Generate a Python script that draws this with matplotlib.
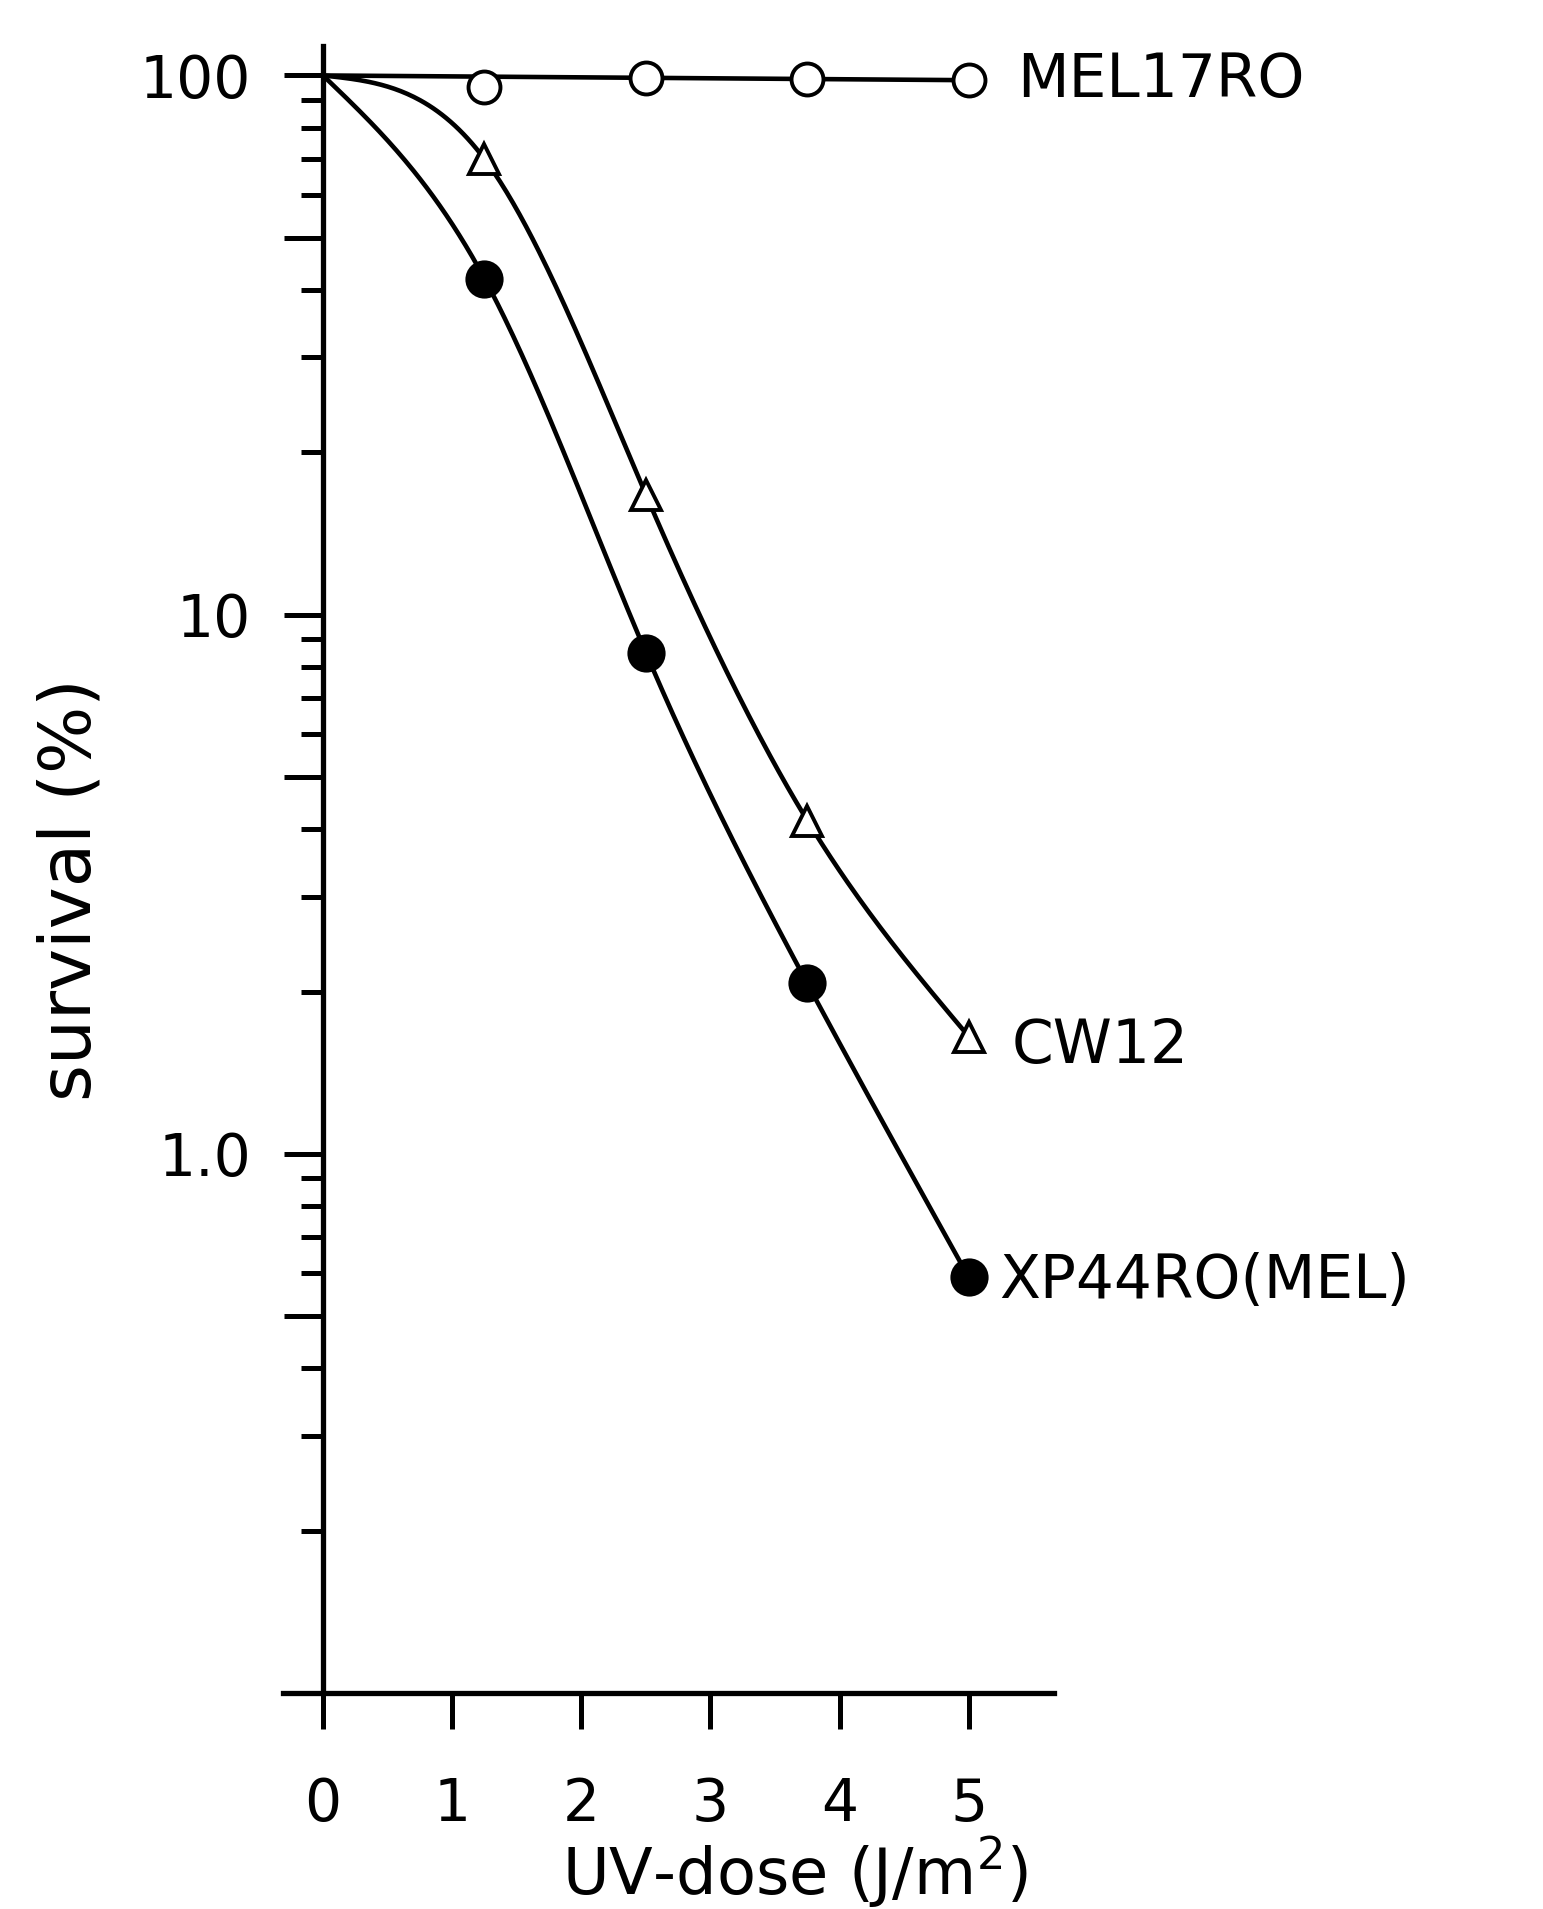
import numpy as np
import matplotlib
matplotlib.use("Agg")
import matplotlib.pyplot as plt

plt.rcParams['font.family'] = ['DejaVu Sans']

# ---- data ----
dose = [0, 1.25, 2.5, 3.75, 5.0]
mel17ro = [100, 95, 99, 98.5, 98]
cw12 = [100, 70, 16.7, 4.15, 1.65]
xp44ro = [100, 42, 8.5, 2.07, 0.59]
mel17ro_line_dose = [0, 5.0]
mel17ro_line = [100, 98]
series_labels = ["MEL17RO", "CW12", "XP44RO(MEL)"]
xtick_vals = [0, 1, 2, 3, 4, 5]
xtick_labels = ["0", "1", "2", "3", "4", "5"]
ymajor_vals = [0.1, 0.5, 1, 5, 10, 50, 100]
ymajor_labels = ["", "", "1.0", "", "10", "", "100"]
yminor_vals = [0.2, 0.3, 0.4, 0.6, 0.7, 0.8, 0.9,
               2, 3, 4, 6, 7, 8, 9,
               20, 30, 40, 60, 70, 80, 90]


def natural_spline_log(x, y, n=300):
    """Smooth curve through the points, drawn in log10 space."""
    x = np.asarray(x, float)
    ly = np.log10(np.asarray(y, float))
    m = len(x)
    h = np.diff(x)
    A = np.zeros((m, m))
    r = np.zeros(m)
    A[0, 0] = A[-1, -1] = 1.0
    for i in range(1, m - 1):
        A[i, i - 1] = h[i - 1]
        A[i, i] = 2 * (h[i - 1] + h[i])
        A[i, i + 1] = h[i]
        r[i] = 6 * ((ly[i + 1] - ly[i]) / h[i] - (ly[i] - ly[i - 1]) / h[i - 1])
    M = np.linalg.solve(A, r)
    xs = np.linspace(x[0], x[-1], n)
    idx = np.clip(np.searchsorted(x, xs) - 1, 0, m - 2)
    x0, x1 = x[idx], x[idx + 1]
    hh = x1 - x0
    a = (x1 - xs) / hh
    b = (xs - x0) / hh
    ys = (a * ly[idx] + b * ly[idx + 1]
          + ((a ** 3 - a) * M[idx] + (b ** 3 - b) * M[idx + 1]) * hh ** 2 / 6)
    return xs, 10 ** ys


fig = plt.figure(figsize=(15.43, 19.09), dpi=100)
ax = fig.add_axes([0.18341, 0.11315, 0.49968, 0.86275])

lw = 3.3
# curves
ax.plot(mel17ro_line_dose, mel17ro_line, color='black', lw=lw, zorder=2)
xs, ys = natural_spline_log(dose, cw12)
ax.plot(xs, ys, color='black', lw=lw, zorder=2)
xs, ys = natural_spline_log(dose, xp44ro)
ax.plot(xs, ys, color='black', lw=lw, zorder=2)

# markers
ax.plot(dose[1:], mel17ro[1:], ls='none', marker='o', ms=23, mfc='white',
        mec='black', mew=2.8, zorder=3)
ax.plot(dose[1:], cw12[1:], ls='none', marker='^', ms=21, mfc='white',
        mec='black', mew=2.8, zorder=3)
ax.plot(dose[1:], xp44ro[1:], ls='none', marker='o', ms=26, mfc='black',
        mec='black', mew=1.5, zorder=3)

# series labels
fs = 43
ax.annotate(series_labels[0], xy=(dose[-1], mel17ro[-1]), xytext=(35, 0),
            textcoords='offset points', va='center', ha='left', fontsize=fs,
            annotation_clip=False)
ax.annotate(series_labels[1], xy=(dose[-1], cw12[-1]), xytext=(31, -7),
            textcoords='offset points', va='center', ha='left', fontsize=fs,
            annotation_clip=False)
ax.annotate(series_labels[2], xy=(dose[-1], xp44ro[-1]), xytext=(22, -3),
            textcoords='offset points', va='center', ha='left', fontsize=fs,
            annotation_clip=False)

# axes
ax.set_yscale('log')
ax.set_xlim(-0.31, 5.66)
ax.set_ylim(0.1, 113.4)
for s in ['top', 'right']:
    ax.spines[s].set_visible(False)
ax.spines['left'].set_position(('data', 0))
for s in ['left', 'bottom']:
    ax.spines[s].set_linewidth(3.8)

ax.set_xticks(xtick_vals)
ax.set_xticklabels(xtick_labels)
ax.set_yticks(ymajor_vals)
ax.set_yticklabels(ymajor_labels)
ax.set_yticks(yminor_vals, minor=True)
ax.yaxis.set_minor_formatter(matplotlib.ticker.NullFormatter())

ax.tick_params(axis='x', which='major', direction='out', length=26, width=3.6,
               pad=34, labelsize=42)
ax.tick_params(axis='y', which='major', direction='out', length=28, width=3.6,
               pad=24, labelsize=42)
ax.tick_params(axis='y', which='minor', direction='out', length=16, width=3.6)

fig.text(0.046, 0.534, "survival (%)", rotation=90, fontsize=51,
         ha='center', va='center')
fig.text(0.515, 0.0075, r"UV-dose (J/m$^{2}$)", fontsize=46,
         ha='center', va='baseline')

fig.savefig("out.png", dpi=100, facecolor='white')
